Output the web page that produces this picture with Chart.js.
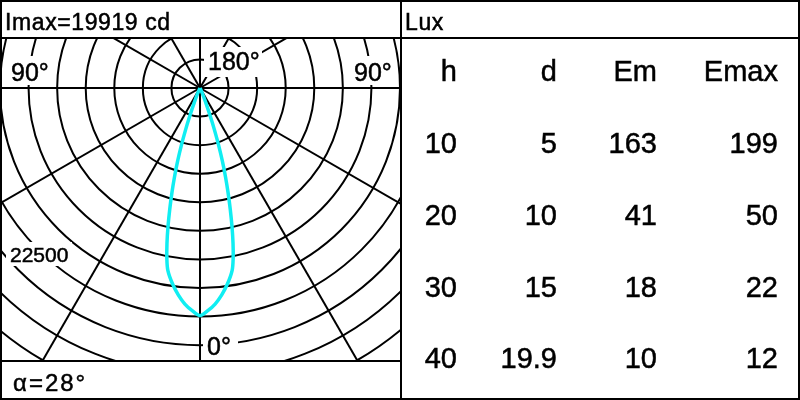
<!DOCTYPE html>
<html>
<head>
<meta charset="utf-8">
<script src="https://cdn.jsdelivr.net/npm/chart.js@4"></script>
<style>
  body { margin: 0; background: #fff; }
  .box { position: relative; width: 800px; height: 400px; }
</style>
</head>
<body>
<div class="box"><canvas id="polar"></canvas></div>
<script>
// intensity curve (cd), half plane, mirrored for the other side
const angles = [0, 2, 4, 6, 8, 10, 11, 12, 13, 14, 15, 16, 17, 18, 19, 20, 22, 24, 26, 28];
const intensity = [19919, 19500, 18950, 18200, 17300, 16200, 15200, 13900, 12450, 10950,
                   9500, 8100, 6700, 5300, 3900, 2700, 1100, 400, 100, 0];

const imax = 19919;
const alpha = 28;
const ringStep = 2500;
const ringLabel = '22500';

// Lux table
const columns = ['h', 'd', 'Em', 'Emax'];
const heights = [10, 20, 30, 40];
const diameters = ['5', '10', '15', '19.9'];
const em = [163, 41, 18, 10];
const emax = [199, 50, 22, 12];

const FONT = '"Liberation Sans", Arial, sans-serif';

// angle measured from straight down (0°), intensity -> x/y values
function polar(deg, value) {
  const t = deg * Math.PI / 180;
  return { x: value * Math.sin(t), y: -value * Math.cos(t) };
}

const points = [];
for (let i = angles.length - 1; i > 0; i--) points.push(polar(-angles[i], intensity[i]));
for (let i = 0; i < angles.length; i++) points.push(polar(angles[i], intensity[i]));

function text(ctx, s, tx, ty) {
  ctx.fillText(s, tx, ty);
  ctx.strokeText(s, tx, ty);
}

function label(ctx, s, tx, ty, size, box) {
  ctx.fillStyle = '#fff';
  ctx.fillRect(box[0], box[1], box[2], box[3]);
  ctx.fillStyle = '#000';
  ctx.strokeStyle = '#000';
  ctx.lineWidth = 0.5;
  ctx.font = size + 'px ' + FONT;
  ctx.textAlign = 'left';
  ctx.textBaseline = 'alphabetic';
  text(ctx, s, tx, ty);
}

const grid = {
  id: 'grid',
  beforeDatasetsDraw(chart) {
    const { ctx, chartArea: a, scales: { x, y } } = chart;
    const cx = x.getPixelForValue(0);
    const cy = y.getPixelForValue(0);
    const step = x.getPixelForValue(ringStep) - cx;

    ctx.save();
    ctx.beginPath();
    ctx.rect(a.left, a.top, a.right - a.left, a.bottom - a.top);
    ctx.clip();
    ctx.strokeStyle = '#000';
    ctx.lineWidth = 2;

    for (let i = 1; i <= 14; i++) {
      ctx.beginPath();
      ctx.arc(cx, cy, step * i, 0, 2 * Math.PI);
      ctx.stroke();
    }
    for (let g = 0; g < 360; g += 30) {
      const p = polar(g, 60000);
      ctx.beginPath();
      ctx.moveTo(cx, cy);
      ctx.lineTo(x.getPixelForValue(p.x), y.getPixelForValue(p.y));
      ctx.stroke();
    }

    label(ctx, '180°', 208, 70, 25, [204, 47, 58, 30]);
    label(ctx, '90°', 11, 81, 25, [6, 56, 46, 29]);
    label(ctx, '90°', 354, 81, 25, [350, 56, 46, 29]);
    label(ctx, '0°', 207, 355, 25, [203, 333, 35, 26]);
    label(ctx, ringLabel, 10, 262, 21, [6, 242, 66, 24]);
    ctx.restore();
  },
  afterDraw(chart) {
    const ctx = chart.ctx;
    ctx.save();
    ctx.strokeStyle = '#000';
    ctx.lineWidth = 2;
    ctx.strokeRect(1, 1, 798, 398);
    ctx.beginPath();
    ctx.moveTo(0, 38); ctx.lineTo(800, 38);
    ctx.moveTo(401, 0); ctx.lineTo(401, 400);
    ctx.moveTo(0, 361); ctx.lineTo(401, 361);
    ctx.stroke();

    ctx.fillStyle = '#000';
    ctx.lineWidth = 0.5;
    ctx.textBaseline = 'alphabetic';
    ctx.textAlign = 'left';
    ctx.font = '23px ' + FONT;
    ctx.letterSpacing = '0.6px';
    text(ctx, 'Imax=' + imax + ' cd', 5, 30);
    text(ctx, 'Lux', 405, 30);
    ctx.font = '24px ' + FONT;
    ctx.letterSpacing = '2px';
    text(ctx, 'α=' + alpha + '°', 13, 391);
    ctx.letterSpacing = '0px';

    // table
    const xs = [457, 557, 657, 778];
    const rows = [81, 153, 225, 297, 368];
    ctx.font = '29px ' + FONT;
    ctx.textAlign = 'right';
    columns.forEach((c, j) => text(ctx, c, xs[j], rows[0]));
    heights.forEach((h, i) => {
      [h, diameters[i], em[i], emax[i]].forEach((v, j) => text(ctx, String(v), xs[j], rows[i + 1]));
    });
    ctx.restore();
  }
};

new Chart(document.getElementById('polar'), {
  type: 'scatter',
  data: {
    datasets: [{
      label: 'cd',
      data: points,
      showLine: true,
      borderColor: '#10eef2',
      borderWidth: 3.5,
      pointRadius: 0,
      tension: 0.3,
      fill: false
    }]
  },
  options: {
    responsive: true,
    maintainAspectRatio: false,
    animation: false,
    layout: { padding: { left: 0, right: 400, top: 38, bottom: 40 } },
    plugins: {
      legend: { display: false },
      tooltip: { enabled: false }
    },
    scales: {
      x: { type: 'linear', min: -17500, max: 17500, display: false },
      y: { type: 'linear', min: -23800, max: 4375, display: false }
    }
  },
  plugins: [grid]
});
</script>
</body>
</html>
